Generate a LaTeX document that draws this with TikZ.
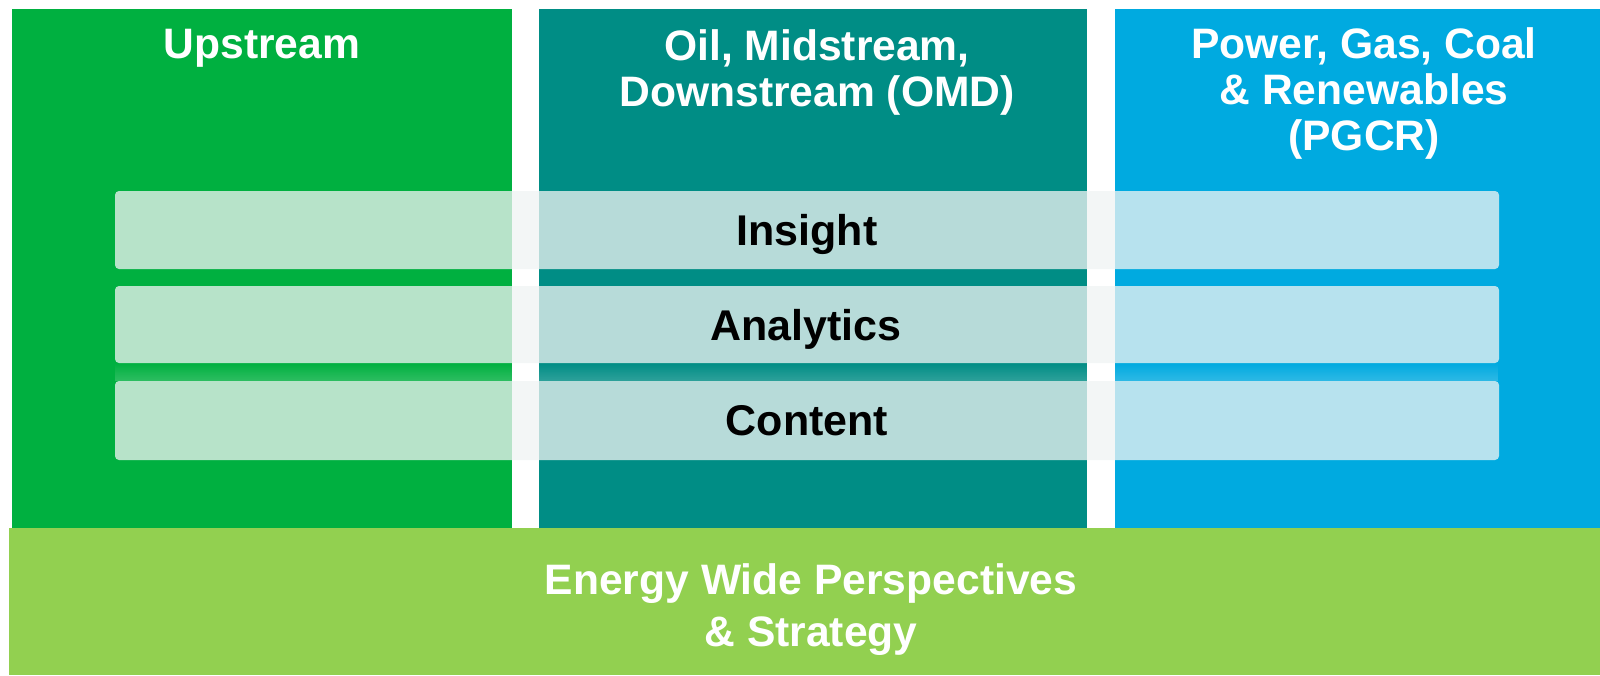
\documentclass[tikz,border=0pt]{standalone}
\usepackage{fontspec}
\setmainfont{Liberation Sans}
\usetikzlibrary{fadings}
\definecolor{upgreen}{RGB}{0,176,64}
\definecolor{omdteal}{RGB}{0,141,133}
\definecolor{pgcrblue}{RGB}{0,170,224}
\definecolor{ewgreen}{RGB}{146,208,80}
\definecolor{barfill}{RGB}{239,243,243}
\begin{document}
\begin{tikzpicture}[x=1pt,y=-1pt,
  col/.style={fill=#1, draw=none},
  layerbar/.style={fill=barfill, fill opacity=0.77, draw=none, rounded corners=4pt},
  head/.style={text=white, font=\fontsize{42.6}{46}\selectfont\bfseries, align=center, anchor=base, inner sep=0pt},
  layerlabel/.style={text=black, font=\fontsize{43}{46}\selectfont\bfseries, anchor=base, inner sep=0pt},
  foot/.style={text=white, font=\fontsize{42.6}{52}\selectfont\bfseries, align=center, anchor=base, inner sep=0pt}]
\useasboundingbox (0,0) rectangle (1600,675);
% columns
\path[col=upgreen] (12,9) rectangle (512,528);
\path[col=omdteal] (539,9) rectangle (1086.5,528);
\path[col=pgcrblue] (1115,9) rectangle (1600,528);
% bottom bar
\path[col=ewgreen] (9,528) rectangle (1600,675);
% sheen under analytics
\fill[white, opacity=0.18, path fading=north] (115,363) rectangle (1499,381);
% layer bars
\path[layerbar] (115,191) rectangle (1499,269);
\path[layerbar] (115,286) rectangle (1499,363);
\path[layerbar] (115,381) rectangle (1499,460);
% headers (base anchor = baseline of the last line)
\node[head] (up) at (262,58) {Upstream};
\node[head] (omd) at (817,106) {Oil, Midstream,\\Downstream (OMD)};
\node[head] (pgcr) at (1364,150) {Power, Gas, Coal\\\& Renewables\\(PGCR)};
% layer labels
\node[layerlabel] (ins) at (807,245.7) {Insight};
\node[layerlabel] (ana) at (806,340) {Analytics};
\node[layerlabel] (con) at (807,435.5) {Content};
% footer
\node[foot] (ews) at (811,646) {Energy Wide Perspectives\\\& Strategy};
\end{tikzpicture}
\end{document}
